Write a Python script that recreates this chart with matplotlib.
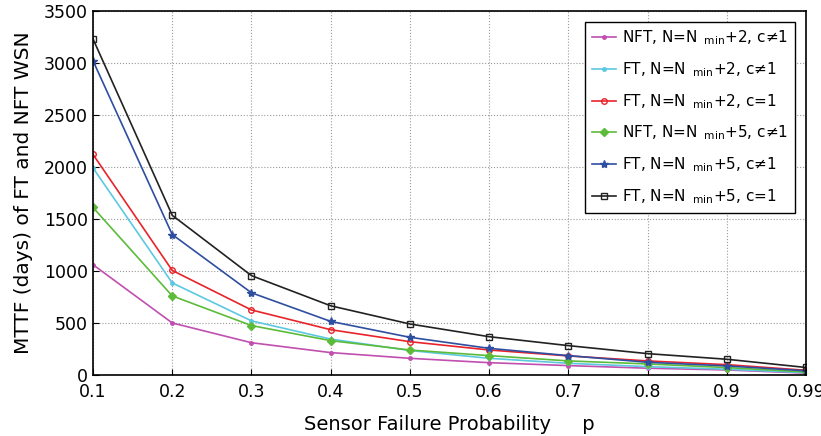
import matplotlib
matplotlib.use("Agg")
import matplotlib.pyplot as plt
import numpy as np

p_labels = ['0.1', '0.2', '0.3', '0.4', '0.5', '0.6', '0.7', '0.8', '0.9', '0.99']

nft_2 = [1060, 500, 310, 215, 160, 118, 90, 65, 48, 18]
ft_2 = [1990, 885, 520, 345, 235, 160, 112, 80, 55, 22]
ft_2_c1 = [2120, 1005, 625, 435, 320, 240, 183, 135, 99, 45]
nft_5 = [1610, 760, 475, 330, 240, 186, 135, 106, 71, 29]
ft_5 = [3020, 1350, 790, 515, 362, 256, 186, 122, 87, 40]
ft_5_c1 = [3230, 1535, 955, 665, 490, 368, 282, 205, 151, 72]

sub = '$_{\\mathregular{\\ \\ min}}$'
series = [
    (nft_2, 'NFT, N=N' + sub + '+2, c\u22601', '#c04fb0', '.', 'full'),
    (ft_2, 'FT, N=N' + sub + '+2, c\u22601', '#5cc8e0', '.', 'full'),
    (ft_2_c1, 'FT, N=N' + sub + '+2, c=1', '#e8232a', 'o', 'none'),
    (nft_5, 'NFT, N=N' + sub + '+5, c\u22601', '#5dbb3a', 'D', 'full'),
    (ft_5, 'FT, N=N' + sub + '+5, c\u22601', '#2e4ea0', '*', 'full'),
    (ft_5_c1, 'FT, N=N' + sub + '+5, c=1', '#222222', 's', 'none'),
]

fig = plt.figure(figsize=(8.21, 4.36), dpi=100)
ax = fig.add_axes([0.1133, 0.140, 0.8684, 0.835])
x = np.arange(len(p_labels))

for vals, label, color, marker, fill in series:
    ms = 4
    if marker == '*':
        ms = 6
    elif marker == '.':
        ms = 5
    ax.plot(x, vals, color=color, marker=marker, fillstyle=fill, markersize=ms,
            linewidth=1.2, label=label)

ax.set_xlim(0, len(p_labels) - 1)
ax.set_ylim(0, 3500)
ax.set_xticks(x)
ax.set_xticklabels(p_labels)
ax.set_yticks(np.arange(0, 3501, 500))
ax.tick_params(labelsize=12.5, direction='in', length=4)
ax.tick_params(axis='x', pad=6)
ax.grid(True, linestyle=':', color='#999999', linewidth=0.8)
for s in ax.spines.values():
    s.set_linewidth(1.2)

ax.set_xlabel('Sensor Failure Probability     p', fontsize=14, labelpad=10)
ax.set_ylabel('MTTF (days) of FT and NFT WSN', fontsize=14.5, labelpad=8)

leg = ax.legend(loc='upper right', bbox_to_anchor=(0.985, 0.970), fontsize=11,
                fancybox=False, edgecolor='black', framealpha=1,
                handlelength=1.6, handletextpad=0.4, labelspacing=0.85, borderpad=0.45,
                borderaxespad=0)
leg.get_frame().set_linewidth(1.0)

fig.savefig('out.png', dpi=100)
